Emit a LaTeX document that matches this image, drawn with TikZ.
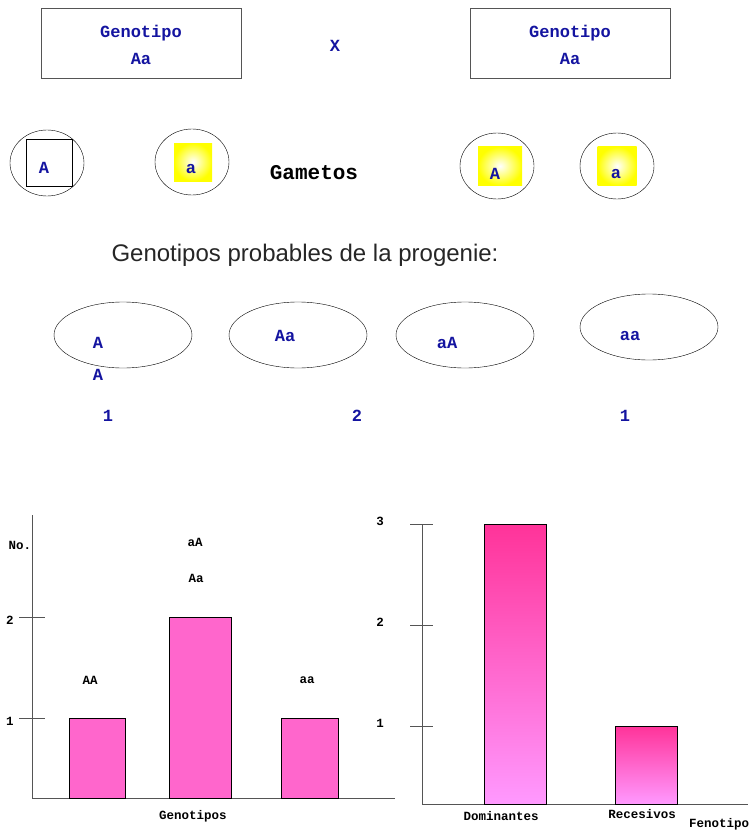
\documentclass[tikz,border=0pt]{standalone}
\usepackage{fontspec}
\setmainfont{Liberation Sans}
\setmonofont{Liberation Mono}
\usetikzlibrary{shapes.geometric}
\definecolor{alleleblue}{RGB}{20,20,160}
\definecolor{barpink}{RGB}{255,102,204}
\definecolor{barhot}{RGB}{255,51,153}
\definecolor{barlight}{RGB}{255,153,255}
\definecolor{axisgray}{RGB}{85,85,85}

\begin{document}
\begin{tikzpicture}[x=1pt,y=-1pt,
  parentbox/.style={draw=axisgray,semithick,minimum width=200pt,minimum height=70pt},
  allele/.style={text=alleleblue,font=\ttfamily\bfseries\fontsize{17}{27}\selectfont,align=center},
  gamete/.style={draw,ellipse,minimum width=74pt,minimum height=66pt,inner sep=0pt},
  yellowsq/.style={inner sep=0pt,shading=radial,inner color=white,outer color=yellow},
  offspring/.style={draw,ellipse,minimum width=138pt,minimum height=66pt,inner sep=0pt},
  chartlbl/.style={font=\ttfamily\bfseries\fontsize{12.5}{14}\selectfont},
  axisline/.style={axisgray,semithick}]
\useasboundingbox (0,0) rectangle (748,832);
% Parents
\node[parentbox] (p1) at (141,43) {};
\node[parentbox] (p2) at (570,43) {};
\node[allele] (p1txt) at (141,45) {Genotipo\\Aa};
\node[allele] (p2txt) at (570,45) {Genotipo\\Aa};
\node[allele] (cross) at (335,46) {X};
% Gametes
\node[gamete] (g1) at (47,163) {};
\node[gamete] (g2) at (192,162) {};
\node[gamete] (g3) at (497,166) {};
\node[gamete] (g4) at (617,166) {};
\node[draw,fill=white,inner sep=0pt,minimum width=46pt,minimum height=47pt] (sq1) at (49,163) {};
\node[yellowsq,minimum size=38pt] (sq2) at (193,162) {};
\node[yellowsq,minimum width=44pt,minimum height=39pt] (sq3) at (500,166) {};
\node[yellowsq,minimum width=39pt,minimum height=39pt] (sq4) at (617,166) {};
\node[allele] (l1) at (44,168) {A};
\node[allele] (l2) at (191,169) {a};
\node[allele] (l3) at (495,174) {A};
\node[allele] (l4) at (616,174) {a};
\node[font=\ttfamily\bfseries\fontsize{21}{24}\selectfont] (gam) at (314,173) {Gametos};
% Offspring
\node[font=\fontsize{24}{26}\selectfont,text=black!85] (title) at (305,255) {Genotipos probables de la progenie:};
\node[offspring] (o1) at (123,335) {};
\node[offspring] (o2) at (298,335) {};
\node[offspring] (o3) at (465,335) {};
\node[offspring] (o4) at (649,327) {};
\node[allele] (o1a) at (98,343) {A};
\node[allele] (o1b) at (98,375) {A};
\node[allele] (o2txt) at (285,336) {Aa};
\node[allele] (o3txt) at (447,343) {aA};
\node[allele] (o4txt) at (630,336) {aa};
\node[allele] (n1) at (108,416) {1};
\node[allele] (n2) at (357,416) {2};
\node[allele] (n3) at (625,416) {1};
% Genotype chart
\draw[axisline] (32,515) -- (32,798) -- (395,798);
\foreach \y/\n in {617/2,718/1} {
  \draw[axisline] (19,\y) -- (45,\y);
  \node[chartlbl] (gt\n) at (10,\y+3) {\n};
}
\node[chartlbl] (no) at (20,545) {No.};
\draw[fill=barpink] (69,718) rectangle (125,798);
\draw[fill=barpink] (169,617) rectangle (231,798);
\draw[fill=barpink] (281,718) rectangle (338,798);
\node[chartlbl] (bAA) at (90,680) {AA};
\node[chartlbl] (baA) at (195,542) {aA};
\node[chartlbl] (bAa) at (196,578) {Aa};
\node[chartlbl] (baa) at (307,680) {aa};
\node[chartlbl] (gx) at (193,816) {Genotipos};
% Phenotype chart
\draw[axisline] (422,524) -- (422,804) -- (748,804);
\foreach \y/\n in {524/3,625/2,726/1} {
  \draw[axisline] (410,\y) -- (433,\y);
  \node[chartlbl] (ft\n) at (380,\y-3) {\n};
}
\draw[top color=barhot,bottom color=barlight] (484,524) rectangle (546,804);
\draw[top color=barhot,bottom color=barlight] (615,726) rectangle (677,804);
\node[chartlbl] (dom) at (501,816) {Dominantes};
\node[chartlbl] (rec) at (642,814) {Recesivos};
\node[chartlbl] (fx) at (719,824) {Fenotipo};
\end{tikzpicture}
\end{document}
